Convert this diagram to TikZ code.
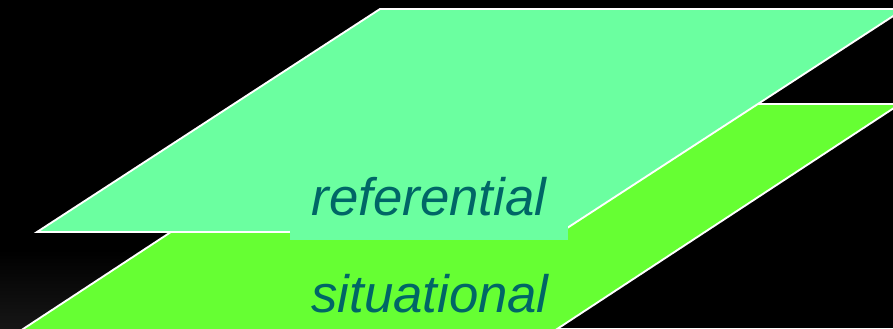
\documentclass[tikz,border=0pt]{standalone}
\usepackage{fontspec}
\setmainfont{Liberation Sans}
\usepackage{xcolor}
\usepackage{tikz}
\definecolor{planemint}{RGB}{107,255,160}
\definecolor{planelime}{RGB}{102,255,51}
\definecolor{labelteal}{RGB}{0,102,102}
\definecolor{hazegrey}{RGB}{22,22,22}

\tikzset{
  plane/.style={draw=white, line width=1.6pt, line join=miter},
  planelabel/.style={text=labelteal, font=\fontsize{45}{50}\selectfont\itshape, anchor=base}
}

\begin{document}
\begin{tikzpicture}[x=0.03cm, y=-0.03cm]
\useasboundingbox (0,0) rectangle (893,328);
\fill[black] (0,0) rectangle (893,328);
\shade[top color=black, bottom color=hazegrey] (0,250) rectangle (300,328);

% lower plane
\coordinate (sitBL) at (17,333);
\coordinate (sitTL) at (366,104);
\coordinate (sitTR) at (900,104);
\coordinate (sitBR) at (551,333);
\filldraw[plane, fill=planelime] (sitBL) -- (sitTL) -- (sitTR) -- (sitBR) -- cycle;

% upper plane
\coordinate (refBL) at (37,232);
\coordinate (refTL) at (380,9);
\coordinate (refTR) at (904,9);
\coordinate (refBR) at (561,232);
\filldraw[plane, fill=planemint] (refBL) -- (refTL) -- (refTR) -- (refBR) -- cycle;

\node[planelabel, fill=planemint, inner xsep=0.64cm, inner ysep=0.72cm] (referential) at (429,215) {referential};
\node[planelabel] (situational) at (430,312) {situational};
\end{tikzpicture}
\end{document}
